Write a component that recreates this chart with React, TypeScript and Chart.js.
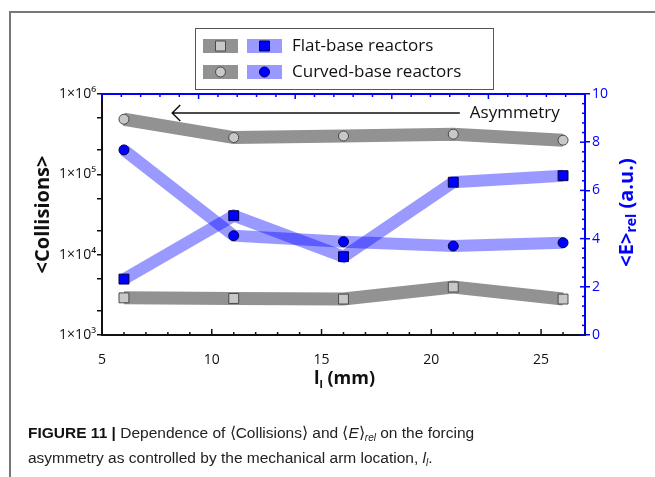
import React, { useEffect, useRef } from "react";
import { Chart, registerables } from "chart.js";

Chart.register(...registerables);

// Mechanical arm location l_l (mm)
const positions = [6, 11, 16, 21, 26];
// <Collisions> (left, log axis)
const flatCollisions = [2900, 2850, 2800, 3950, 2800];
const curvedCollisions = [485000, 287000, 300000, 316000, 266000];
// <E>_rel (right axis, a.u.)
const flatEnergy = [2.32, 4.95, 3.25, 6.34, 6.61];
const curvedEnergy = [7.68, 4.12, 3.87, 3.69, 3.83];

const xTicks = [5, 10, 15, 20, 25];
const collisionTicks = [1e3, 1e4, 1e5, 1e6];
const collisionMinor = [2, 5];
const energyTicks = [0, 2, 4, 6, 8, 10];
const legendLabels = ["Flat-base reactors", "Curved-base reactors"];

const FONT = '"Open Sans", "Noto Sans", "DejaVu Sans", sans-serif';
const BLUE = "#0000ff";
const GRAY_BAND = "#929292";
const BLUE_BAND = "rgba(0,0,255,0.4)";
const GRAY_FILL = "#c8c8c8";
const GRAY_EDGE = "#4a4a4a";
const BLUE_EDGE = "#00004a";
const INK = "#111111";

const SUP: Record<string, string> = { "3": "³", "4": "⁴", "5": "⁵", "6": "⁶" };

const pts = (ys: number[]) => positions.map((x, i) => ({ x, y: ys[i] }));

type Seg = { text: string; font: string; dy?: number };

function drawRich(ctx: CanvasRenderingContext2D, segs: Seg[], cx: number, cy: number, angle: number, color: string) {
  ctx.save();
  ctx.translate(cx, cy);
  ctx.rotate(angle);
  ctx.fillStyle = color;
  ctx.textBaseline = "middle";
  ctx.textAlign = "left";
  let total = 0;
  const widths = segs.map((s) => {
    ctx.font = s.font;
    const w = ctx.measureText(s.text).width;
    total += w;
    return w;
  });
  let x = -total / 2;
  segs.forEach((s, i) => {
    ctx.font = s.font;
    ctx.fillText(s.text, x, s.dy || 0);
    x += widths[i];
  });
  ctx.restore();
}

function marker(ctx: CanvasRenderingContext2D, shape: "rect" | "circle", x: number, y: number, fill: string, edge: string) {
  ctx.save();
  ctx.fillStyle = fill;
  ctx.strokeStyle = edge;
  ctx.lineWidth = 1;
  ctx.beginPath();
  if (shape === "rect") ctx.rect(x - 5, y - 5, 10, 10);
  else ctx.arc(x, y, 5, 0, Math.PI * 2);
  ctx.fill();
  ctx.stroke();
  ctx.restore();
}

const decorations = {
  id: "decorations",
  afterDraw(chart: any) {
    const ctx: CanvasRenderingContext2D = chart.ctx;
    const { left, right, top, bottom } = chart.chartArea;
    const xs = chart.scales.x;
    const yr = chart.scales.yR;

    ctx.save();
    // top frame with ticks (blue)
    ctx.strokeStyle = BLUE;
    ctx.lineWidth = 2;
    ctx.beginPath();
    ctx.moveTo(left - 1, top);
    ctx.lineTo(right + 1, top);
    ctx.stroke();
    ctx.lineWidth = 1.5;
    for (let i = 0; i <= 25; i++) {
      const px = left + ((right - left) * i) / 25;
      const len = i % 5 === 0 ? 5 : 3;
      ctx.beginPath();
      ctx.moveTo(px, top);
      ctx.lineTo(px, top + len);
      ctx.stroke();
    }
    // right axis inward ticks
    for (let k = 0; k <= 25; k++) {
      const py = yr.getPixelForValue(k * 0.4);
      const len = k % 5 === 0 ? 5 : 3;
      ctx.beginPath();
      ctx.moveTo(right, py);
      ctx.lineTo(right - len, py);
      ctx.stroke();
    }
    // bottom axis inward ticks
    ctx.strokeStyle = INK;
    for (let v = xs.min; v <= xs.max; v++) {
      const px = xs.getPixelForValue(v);
      const len = v % 5 === 0 ? 6 : 3;
      ctx.beginPath();
      ctx.moveTo(px, bottom);
      ctx.lineTo(px, bottom - len);
      ctx.stroke();
    }

    // asymmetry arrow
    const ay = top + 19;
    const ax0 = xs.getPixelForValue(8.2);
    const ax1 = xs.getPixelForValue(21.3);
    ctx.strokeStyle = INK;
    ctx.lineWidth = 1.5;
    ctx.beginPath();
    ctx.moveTo(ax1, ay);
    ctx.lineTo(ax0, ay);
    ctx.moveTo(ax0 + 8, ay - 8);
    ctx.lineTo(ax0, ay);
    ctx.lineTo(ax0 + 8, ay + 8);
    ctx.stroke();
    ctx.fillStyle = INK;
    ctx.font = `17px ${FONT}`;
    ctx.textBaseline = "middle";
    ctx.textAlign = "left";
    ctx.fillText("Asymmetry", ax1 + 10, ay);

    // legend
    const lx = 195, ly = 28, lw = 298, lh = 61;
    ctx.fillStyle = "#ffffff";
    ctx.fillRect(lx, ly, lw, lh);
    ctx.strokeStyle = "#555555";
    ctx.lineWidth = 1;
    ctx.strokeRect(lx + 0.5, ly + 0.5, lw, lh);
    const rows: Array<{ shape: "rect" | "circle"; y: number; label: string }> = [
      { shape: "rect", y: ly + 18, label: legendLabels[0] },
      { shape: "circle", y: ly + 44, label: legendLabels[1] },
    ];
    rows.forEach((r) => {
      ctx.fillStyle = GRAY_BAND;
      ctx.fillRect(lx + 8, r.y - 7, 35, 14);
      ctx.fillStyle = BLUE_BAND;
      ctx.fillRect(lx + 52, r.y - 7, 35, 14);
      marker(ctx, r.shape, lx + 25.5, r.y, GRAY_FILL, GRAY_EDGE);
      marker(ctx, r.shape, lx + 69.5, r.y, BLUE, BLUE_EDGE);
      ctx.fillStyle = INK;
      ctx.font = `17px ${FONT}`;
      ctx.textBaseline = "middle";
      ctx.textAlign = "left";
      ctx.fillText(r.label, lx + 97, r.y);
    });

    // axis titles
    drawRich(ctx, [{ text: "<Collisions>", font: `bold 20px ${FONT}` }], 43, (top + bottom) / 2, -Math.PI / 2, INK);
    drawRich(
      ctx,
      [
        { text: "<E>", font: `bold 20px ${FONT}` },
        { text: "rel", font: `bold 14px ${FONT}`, dy: 5 },
        { text: " (a.u.)", font: `bold 20px ${FONT}` },
      ],
      627,
      (top + bottom) / 2 - 2,
      -Math.PI / 2,
      BLUE
    );
    drawRich(
      ctx,
      [
        { text: "l", font: `bold 18px ${FONT}` },
        { text: "l", font: `bold 11px ${FONT}`, dy: 6 },
        { text: " (mm)", font: `bold 18px ${FONT}` },
      ],
      (left + right) / 2 + 1,
      bottom + 44,
      0,
      INK
    );
    ctx.restore();
  },
};

export default function App() {
  const canvasRef = useRef<HTMLCanvasElement | null>(null);

  useEffect(() => {
    const canvas = canvasRef.current;
    if (!canvas) return;

    const band = (ys: number[], axis: string, color: string, width: number) => ({
      type: "line" as const,
      data: pts(ys),
      yAxisID: axis,
      borderColor: color,
      borderWidth: width,
      borderJoinStyle: "miter" as const,
      borderCapStyle: "butt" as const,
      pointRadius: 0,
      fill: false,
      tension: 0,
    });
    const marks = (ys: number[], axis: string, shape: string, fill: string, edge: string) => ({
      type: "line" as const,
      data: pts(ys),
      yAxisID: axis,
      showLine: false,
      pointStyle: shape,
      pointRadius: shape === "rect" ? 7 : 5,
      pointBackgroundColor: fill,
      pointBorderColor: edge,
      pointBorderWidth: 1,
    });

    const chart = new Chart(canvas, {
      type: "line",
      data: {
        datasets: [
          // markers first so they are painted on top of the bands
          marks(flatCollisions, "yL", "rect", GRAY_FILL, GRAY_EDGE),
          marks(curvedCollisions, "yL", "circle", GRAY_FILL, GRAY_EDGE),
          marks(flatEnergy, "yR", "rect", BLUE, BLUE_EDGE),
          marks(curvedEnergy, "yR", "circle", BLUE, BLUE_EDGE),
          band(flatCollisions, "yL", GRAY_BAND, 13),
          band(curvedCollisions, "yL", GRAY_BAND, 13),
          band(flatEnergy, "yR", BLUE_BAND, 12),
          band(curvedEnergy, "yR", BLUE_BAND, 12),
        ] as any,
      },
      options: {
        responsive: false,
        animation: false,
        devicePixelRatio: 1,
        layout: { padding: { top: 94, left: 0, right: 0, bottom: 0 } },
        plugins: { legend: { display: false }, tooltip: { enabled: false } },
        scales: {
          x: {
            type: "linear",
            min: 5,
            max: 27,
            afterBuildTicks: (s: any) => {
              s.ticks = xTicks.map((v) => ({ value: v }));
            },
            afterFit: (s: any) => {
              s.height = 142;
            },
            grid: { display: false },
            border: { display: true, color: INK, width: 2 },
            ticks: { color: INK, font: { family: FONT, size: 14 }, padding: 9, maxRotation: 0, autoSkip: false },
          },
          yL: {
            type: "logarithmic",
            position: "left",
            min: 1e3,
            max: 1e6,
            afterBuildTicks: (s: any) => {
              const t: { value: number }[] = [];
              collisionTicks.forEach((d, i) => {
                t.push({ value: d });
                if (i < collisionTicks.length - 1) collisionMinor.forEach((m) => t.push({ value: d * m }));
              });
              s.ticks = t;
            },
            afterFit: (s: any) => {
              s.width = 102;
            },
            grid: { drawOnChartArea: false, drawTicks: true, tickLength: 5, color: INK, lineWidth: 1.5 },
            border: { display: true, color: INK, width: 2 },
            ticks: {
              color: INK,
              font: { family: FONT, size: 14 },
              padding: 1,
              autoSkip: false,
              callback: (v: any) => {
                const n = Number(v);
                if (!collisionTicks.includes(n)) return "";
                const e = String(Math.round(Math.log10(n)));
                return "1×10" + (SUP[e] || e);
              },
            },
          },
          yR: {
            type: "linear",
            position: "right",
            min: 0,
            max: 10,
            afterBuildTicks: (s: any) => {
              s.ticks = energyTicks.map((v) => ({ value: v }));
            },
            afterFit: (s: any) => {
              s.width = 70;
            },
            grid: { drawOnChartArea: false, drawTicks: true, tickLength: 5, color: BLUE, lineWidth: 1.5 },
            border: { display: true, color: BLUE, width: 2 },
            ticks: { color: BLUE, font: { family: FONT, size: 14 }, padding: 2, autoSkip: false },
          },
        },
      } as any,
      plugins: [decorations],
    });

    return () => chart.destroy();
  }, []);

  const cap: React.CSSProperties = {
    position: "absolute",
    left: 28,
    fontFamily: '"Liberation Sans", Arial, sans-serif',
    fontSize: 15.5,
    lineHeight: "25px",
    color: "#222",
    whiteSpace: "nowrap",
  };
  const sub: React.CSSProperties = { fontSize: 10, verticalAlign: "-3px", fontStyle: "italic" };

  return (
    <div style={{ position: "fixed", left: 0, top: 0, width: 655, height: 477, background: "#fff", overflow: "hidden" }}>
      <canvas ref={canvasRef} width={655} height={477} style={{ position: "absolute", left: 0, top: 0, width: 655, height: 477 }} />
      <div
        style={{
          position: "absolute",
          left: 9,
          top: 11,
          width: 646,
          height: 466,
          borderTop: "2px solid #777",
          borderLeft: "2px solid #777",
          pointerEvents: "none",
        }}
      />
      <div style={{ ...cap, top: 420 }}>
        <b style={{ color: "#111" }}>FIGURE 11 |</b> Dependence of ⟨Collisions⟩ and ⟨<i>E</i>⟩<span style={sub}>rel</span> on the forcing
      </div>
      <div style={{ ...cap, top: 445 }}>
        asymmetry as controlled by the mechanical arm location, <i>l</i>
        <span style={sub}>l</span>.
      </div>
    </div>
  );
}
